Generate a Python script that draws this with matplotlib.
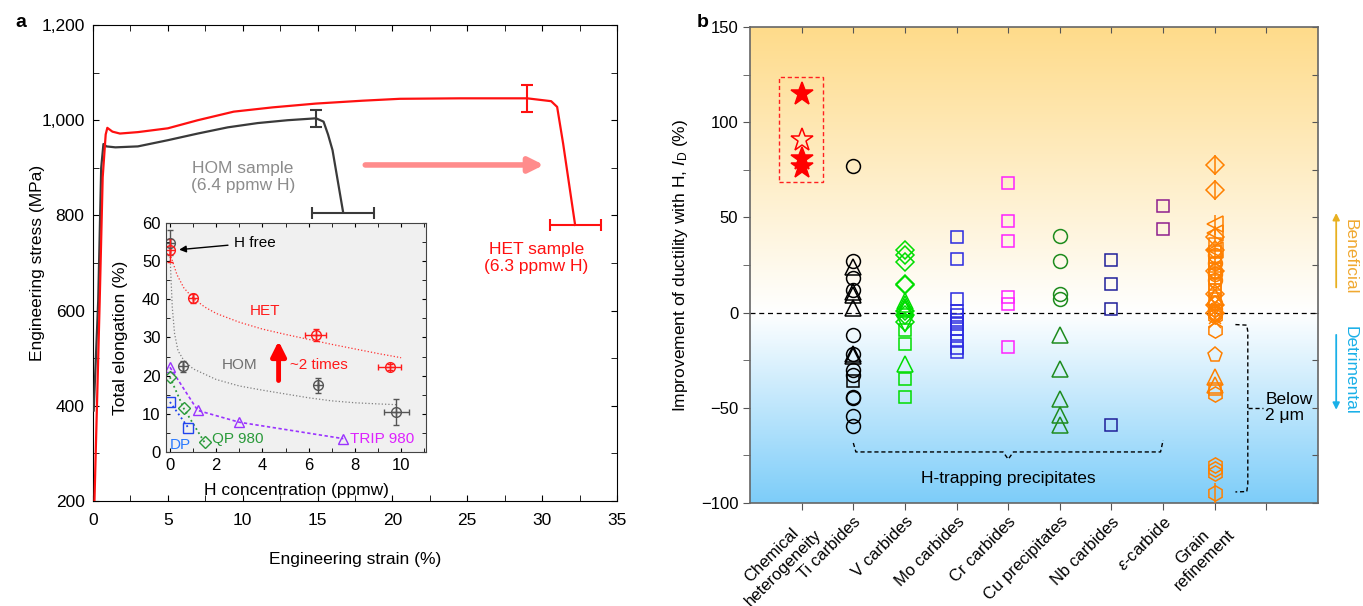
import numpy as np
import matplotlib
matplotlib.use('Agg')
import matplotlib.pyplot as plt
from matplotlib.colors import LinearSegmentedColormap
from matplotlib.ticker import MultipleLocator, FuncFormatter

plt.rcParams['font.family'] = ['Liberation Sans', 'DejaVu Sans']
plt.rcParams['mathtext.fontset'] = 'custom'
plt.rcParams['mathtext.rm'] = 'Liberation Sans'
plt.rcParams['mathtext.it'] = 'Liberation Sans:italic'
plt.rcParams['mathtext.bf'] = 'Liberation Sans:bold'

# ---- panel a: stress-strain curves ----
hom_strain = [0.05, 0.35, 0.55, 0.7, 0.9, 1.5, 3, 5, 7, 9, 11, 13, 14.9, 15.4, 15.7, 16.0, 16.7]
hom_stress = [390, 620, 900, 950, 945, 943, 945, 958, 972, 985, 994, 1000, 1004, 997, 970, 937, 808]
het_strain = [0.1, 0.45, 0.65, 0.85, 0.96, 1.3, 1.8, 3, 5, 7, 9.4, 12, 14.9, 18, 20.5, 24.5, 29, 30.6, 31.0, 31.4, 32.2]
het_stress = [200, 620, 880, 970, 984, 976, 972, 975, 983, 1000, 1018, 1027, 1035, 1041, 1045, 1046, 1046, 1040, 1028, 951, 780]

# error bars (x, y, err)
hom_uts = (14.9, 1003, 18)
hom_frac = (16.7, 806, 2.05)
het_uts = (29.0, 1046, 28)
het_frac = (32.2, 780, 1.7)

# ---- inset: total elongation vs H ----
het_h = [0, 1.0, 6.3, 9.5]
het_el = [52.8, 40.3, 30.7, 22.2]
het_xerr = [0, 0, 0.45, 0.5]
het_yerr = [3.0, 1.2, 1.5, 0.8]
hom_h = [0, 0.55, 6.4, 9.8]
hom_el = [54.8, 22.4, 17.5, 10.5]
hom_xerr = [0, 0, 0, 0.55]
hom_yerr = [3.3, 1.5, 2.0, 3.3]
trip_h = [0, 1.2, 3.0, 7.5]
trip_el = [22.2, 10.9, 7.8, 3.5]
qp_h = [0, 0.6, 1.5]
qp_el = [19.6, 11.4, 2.5]
dp_h = [0, 0.8]
dp_el = [13.1, 6.3]
het_fit_h = [0, 0.3, 0.6, 1, 1.5, 2, 3, 4, 5, 6, 7, 8, 9, 10]
het_fit_el = [52, 46.5, 43, 40.3, 38, 36.3, 34, 32.2, 30.8, 29.5, 28.2, 27, 25.8, 24.7]
hom_fit_h = [0, 0.05, 0.1, 0.2, 0.35, 0.6, 1, 2, 3, 4, 5, 6, 7, 8, 9, 9.8]
hom_fit_el = [52, 45, 38, 31, 26.5, 24, 21.8, 19, 17.3, 16.2, 15.2, 14.2, 13.4, 12.9, 12.6, 12.4]

# ---- panel b: improvement of ductility ----
categories = ['Chemical\nheterogeneity', 'Ti carbides', 'V carbides', 'Mo carbides', 'Cr carbides',
              'Cu precipitates', 'Nb carbides', r'$\varepsilon$-carbide', 'Grain\nrefinement']
chem_star_filled = [114.6, 80.4, 76.6]
chem_star_open = [90.7]
ti_circle = [77, 27, 18.4, 12, -11.6, -21.5, -30, -33, -44.3, -45, -54.5, -59.7]
ti_triangle = [24, 11, 9, 2.5, -21.5, -23]
ti_square = [-36]
v_diamond = [32.7, 30.5, 26.3, 15.2, 14.5, 1, -1.5, -4.9]
v_triangle = [6, 4.5, 3, 2, -27.2]
v_tri_down = [-6]
v_square = [-9.3, -16.3, -34.7, -44.3]
mo_square = [39.5, 28.3, 7.3, 1, -1.5, -4, -6, -8.5, -11, -15, -18.5, -20.5]
cr_square = [68.3, 48, 37.4, 8.2, 4.7, -18.1]
cu_circle = [40, 26.9, 9.6, 7.3]
cu_triangle = [-12, -29.4, -45.2, -54, -59.2]
nb_square = [27.5, 14.9, 1.7, -58.8]
eps_square = [56, 44.1]
gr_diamond = [77.4, 64.2, 39.7, 33, 22, 10, 4, 0]
gr_vline = [77.4, 64.2, 46, 40, 30, 20, 0, -94.7]
gr_left = [46.7, 42, 33]
gr_square = [36, 32, 29, 26, 23, 21, 18, 15, 12, 7, -40]
gr_circle = [30, 26, 22, 20, 17, 5, 2, -1]
gr_hex = [0, -2, -9.3, -43, -80, -82, -84, -94.7]
gr_pent = [-22.4]
gr_triangle = [8, -34, -38]
gr_x = [12, 5, 1, -3, -5]

fig = plt.figure(figsize=(13.63, 6.06), dpi=100)

# ================= panel a =================
axA = fig.add_axes([0.0682, 0.1733, 0.3845, 0.7854])
axA.plot(hom_strain, hom_stress, color='#3a3a3a', lw=1.6, zorder=3)
axA.plot(het_strain, het_stress, color='#ff1010', lw=1.6, zorder=4)
axA.errorbar(hom_uts[0], hom_uts[1], yerr=hom_uts[2], color='#3a3a3a', capsize=4, lw=1.5, capthick=1.5)
axA.errorbar(hom_frac[0], hom_frac[1], xerr=hom_frac[2], color='#3a3a3a', capsize=4, lw=1.5, capthick=1.5)
axA.errorbar(het_uts[0], het_uts[1], yerr=het_uts[2], color='#ff1010', capsize=4, lw=1.5, capthick=1.5)
axA.errorbar(het_frac[0], het_frac[1], xerr=het_frac[2], color='#ff1010', capsize=4, lw=1.5, capthick=1.5)
axA.annotate('', xy=(30.3, 906), xytext=(18.0, 906),
             arrowprops=dict(arrowstyle='-|>', color='#ff8c8c', lw=4, mutation_scale=22))
axA.text(10.0, 881, 'HOM sample\n(6.4 ppmw H)', color='#8c8c8c', fontsize=12.5, ha='center', va='center')
axA.text(29.6, 710, 'HET sample\n(6.3 ppmw H)', color='#ff1010', fontsize=12.5, ha='center', va='center')
axA.set_xlim(0, 35)
axA.set_ylim(200, 1200)
axA.xaxis.set_major_locator(MultipleLocator(5))
axA.xaxis.set_minor_locator(MultipleLocator(2.5))
axA.yaxis.set_major_locator(MultipleLocator(200))
axA.yaxis.set_minor_locator(MultipleLocator(100))
axA.yaxis.set_major_formatter(FuncFormatter(lambda v, p: f'{int(v):,}'))
axA.tick_params(which='both', direction='in', top=True, right=True, length=4, labelsize=12.5)
axA.tick_params(axis='x', pad=9)
axA.tick_params(axis='y', pad=6)
axA.set_xlabel('Engineering strain (%)', fontsize=12.5)
axA.set_ylabel('Engineering stress (MPa)', fontsize=12.5)
axA.xaxis.set_label_coords(0.5, -0.107)
axA.yaxis.set_label_coords(-0.092, 0.5)
fig.text(0.011, 0.963, 'a', fontsize=14, fontweight='bold', va='center')

# ================= inset =================
ins = fig.add_axes([0.1218, 0.2541, 0.1908, 0.378])
ins.set_facecolor('#f0f0f0')
ins.plot(het_fit_h, het_fit_el, ls=':', color='#ff3030', lw=0.9)
ins.plot(hom_fit_h, hom_fit_el, ls=':', color='#808080', lw=0.9)
ins.plot(trip_h, trip_el, ls=(0, (2, 1.5)), color='#9a33ff', lw=1.2, marker='^', mfc='none', ms=7, mew=1)
ins.plot(qp_h, qp_el, ls=':', color='#2a9a3a', lw=1.3, marker='D', mfc='none', ms=6, mew=1)
ins.plot(dp_h, dp_el, ls=':', color='#2244ee', lw=1.3, marker='s', mfc='none', ms=6.5, mew=1)
ins.errorbar(hom_h, hom_el, xerr=hom_xerr, yerr=hom_yerr, fmt='o', mfc='none', color='#555555',
             ms=7, mew=1, capsize=2.5, lw=1)
ins.plot(hom_h, hom_el, '+', color='#555555', ms=7, mew=1)
ins.errorbar(het_h, het_el, xerr=het_xerr, yerr=het_yerr, fmt='o', mfc='none', color='#ff1a1a',
             ms=7, mew=1, capsize=2.5, lw=1)
ins.plot(het_h, het_el, '+', color='#ff1a1a', ms=7, mew=1)
ins.annotate('H free', xy=(0.4, 53), xytext=(2.75, 54.8), fontsize=11, va='center',
             arrowprops=dict(arrowstyle='-|>', color='black', lw=1, shrinkA=2, shrinkB=0, mutation_scale=10))
ins.annotate('', xy=(4.7, 29.8), xytext=(4.7, 18.0),
             arrowprops=dict(arrowstyle='-|>', color='#ff0000', lw=3.5, mutation_scale=22))
ins.text(4.1, 36.9, 'HET', color='#ff1a1a', fontsize=11, ha='center', va='center')
ins.text(3.0, 22.7, 'HOM', color='#707070', fontsize=11, ha='center', va='center')
ins.text(5.2, 22.9, '~2 times', color='#ff1a1a', fontsize=11, ha='left', va='center')
ins.text(0.45, 1.9, 'DP', color='#2a7aff', fontsize=11, ha='center', va='center')
ins.text(1.8, 3.4, 'QP 980', color='#2a9a3a', fontsize=11, ha='left', va='center')
ins.text(7.8, 3.4, 'TRIP 980', color='#dd22ff', fontsize=11, ha='left', va='center')
ins.set_xlim(-0.17, 11.08)
ins.set_ylim(0, 60)
ins.xaxis.set_major_locator(MultipleLocator(2))
ins.xaxis.set_minor_locator(MultipleLocator(1))
ins.yaxis.set_major_locator(MultipleLocator(10))
ins.yaxis.set_minor_locator(MultipleLocator(5))
ins.tick_params(which='both', direction='in', top=True, right=True, length=3, labelsize=12, pad=4)
ins.set_xlabel('H concentration (ppmw)', fontsize=12.5)
ins.set_ylabel('Total elongation (%)', fontsize=12.5)
ins.xaxis.set_label_coords(0.5, -0.135)
ins.yaxis.set_label_coords(-0.146, 0.5)
for s in ins.spines.values():
    s.set_color('#444444')

# ================= panel b =================
axB = fig.add_axes([0.5503, 0.1700, 0.4167, 0.7855])
cmap = LinearSegmentedColormap.from_list('bg', [(0.0, '#7dcdf9'), (0.4, '#ffffff'), (1.0, '#fedb8a')])
grad = np.linspace(-100, 150, 256).reshape(-1, 1)
axB.imshow(grad, extent=[0, 11, -100, 150], origin='lower', aspect='auto', cmap=cmap, zorder=0)
axB.axhline(0, color='black', ls=(0, (4, 3)), lw=0.9, zorder=1)

def col(xpos, vals, marker, color, ms=10, mew=1.1, filled=False):
    axB.plot([xpos] * len(vals), vals, ls='none', marker=marker, ms=ms, mew=mew,
             mec=color, mfc=color if filled else 'none', zorder=3)

col(1, chem_star_filled, '*', '#ff0000', ms=17, filled=True)
col(1, chem_star_open, '*', '#ff0000', ms=17)
col(2, ti_circle, 'o', 'black', ms=10)
col(2, ti_triangle, '^', 'black', ms=11)
col(2, ti_square, 's', 'black', ms=9)
col(3, v_diamond, 'D', '#00dd00', ms=9)
col(3, v_triangle, '^', '#00dd00', ms=11)
col(3, v_tri_down, 'v', '#00dd00', ms=11)
col(3, v_square, 's', '#00dd00', ms=9)
col(4, mo_square, 's', '#2a2ae0', ms=9)
col(5, cr_square, 's', '#ff22ff', ms=9)
col(6, cu_circle, 'o', '#1e8c1e', ms=10)
col(6, cu_triangle, '^', '#1e8c1e', ms=11)
col(7, nb_square, 's', '#1f1f9a', ms=9)
col(8, eps_square, 's', '#8e1f8e', ms=9)
og = '#ff8000'
col(9, gr_diamond, 'D', og, ms=9)
col(9, gr_vline, '|', og, ms=14)
col(9, gr_left, '<', og, ms=11)
col(9, gr_square, 's', og, ms=9)
col(9, gr_circle, 'o', og, ms=10)
col(9, gr_hex, 'h', og, ms=11)
col(9, gr_pent, 'p', og, ms=11)
col(9, gr_triangle, '^', og, ms=11)
col(9, gr_x, 'x', og, ms=9)

# dashed box around chemical heterogeneity
axB.add_patch(plt.Rectangle((0.57, 68.4), 0.84, 55.5, fill=False, ec='#ff2020', ls=(0, (3, 2)), lw=1, zorder=2))

# H-trapping precipitates bracket
brk = dict(color='black', ls=(0, (3, 2)), lw=1, zorder=2)
axB.plot([2, 2.05, 4.9, 5, 5.1, 7.95, 8], [-68.5, -73.2, -73.2, -77, -73.2, -73.2, -67], **brk)
axB.text(5, -87, 'H-trapping precipitates', fontsize=12.5, ha='center', va='center')
# below 2 um bracket
axB.plot([9.4, 9.62, 9.64, 9.64, 9.62, 9.4], [-6.3, -6.6, -10, -90, -94, -94.2], **brk)
axB.plot([9.64, 9.94], [-50, -50], **brk)
axB.text(9.98, -50, 'Below\n2 \u03bcm', fontsize=12.5, ha='left', va='center', linespacing=1.1)

axB.set_xlim(0, 11)
axB.set_ylim(-100, 150)
axB.set_xticks(range(1, 11))
axB.set_xticklabels(categories + [''], rotation=45, ha='right', rotation_mode='anchor', fontsize=12,
                    multialignment='center')
axB.yaxis.set_major_locator(MultipleLocator(50))
axB.yaxis.set_minor_locator(MultipleLocator(25))
axB.tick_params(which='both', direction='out', length=5, labelsize=12, color='#555555')
axB.tick_params(axis='x', pad=3)
for s in axB.spines.values():
    s.set_color('#666666')
    s.set_linewidth(1.2)
top = axB.secondary_xaxis('top')
top.set_xticks(range(1, 11))
top.tick_params(direction='in', labeltop=False, length=4, color='#555555')
top.spines['top'].set_visible(False)
right = axB.secondary_yaxis('right')
right.yaxis.set_major_locator(MultipleLocator(25))
right.tick_params(direction='in', labelright=False, length=4, color='#555555')
right.spines['right'].set_visible(False)
axB.set_ylabel(r'Improvement of ductility with H, $\mathit{I}_{\mathrm{D}}$ (%)', fontsize=12.5)
axB.yaxis.set_label_coords(-0.106, 0.5)

axB.annotate('', xy=(1.032, 0.615), xytext=(1.032, 0.447), xycoords='axes fraction',
             arrowprops=dict(arrowstyle='-|>', color='#e8b020', lw=1.3, mutation_scale=10))
axB.text(1.057, 0.517, 'Beneficial', transform=axB.transAxes, rotation=-90, color='#f0a830',
         fontsize=12.5, ha='center', va='center')
axB.annotate('', xy=(1.032, 0.19), xytext=(1.032, 0.359), xycoords='axes fraction',
             arrowprops=dict(arrowstyle='-|>', color='#1ab0e8', lw=1.3, mutation_scale=10))
axB.text(1.057, 0.279, 'Detrimental', transform=axB.transAxes, rotation=-90, color='#1ab0e8',
         fontsize=12.5, ha='center', va='center')
fig.text(0.511, 0.963, 'b', fontsize=14, fontweight='bold', va='center')

fig.savefig('out.png', dpi=100)
